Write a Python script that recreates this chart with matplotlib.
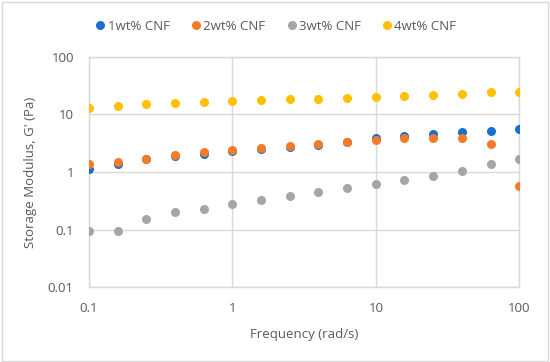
import numpy as np
import matplotlib
matplotlib.use("Agg")
import matplotlib.pyplot as plt
from matplotlib.ticker import FixedLocator, FixedFormatter, NullLocator
from matplotlib.patches import Rectangle

plt.rcParams['font.family'] = ['Open Sans', 'DejaVu Sans']

# frequency sweep, rad/s (5 points per decade)
freq = [0.1, 0.158, 0.251, 0.398, 0.631, 1.0, 1.58, 2.51, 3.98, 6.31,
        10.0, 15.8, 25.1, 39.8, 63.1, 100.0]

# storage modulus G', Pa
g_1wt = [1.14, 1.39, 1.66, 1.87, 2.08, 2.32, 2.51, 2.75, 2.95, 3.3,
         3.95, 4.28, 4.64, 4.96, 5.23, 5.52]
g_2wt = [1.36, 1.47, 1.70, 2.0, 2.23, 2.38, 2.61, 2.83, 3.03, 3.37,
         3.6, 3.86, 3.95, 3.86, 3.1, 0.58]
g_3wt = [0.094, 0.094, 0.154, 0.199, 0.23, 0.278, 0.33, 0.387, 0.455, 0.527,
         0.61, 0.726, 0.852, 1.04, 1.38, 1.71]
g_4wt = [13.1, 14.2, 15.0, 15.8, 16.5, 17.2, 17.9, 18.4, 18.8, 19.6,
         20.2, 20.7, 21.8, 23.0, 24.3, 24.9]

series = [("1wt% CNF", g_1wt, "#1a6ecc"),
          ("2wt% CNF", g_2wt, "#f47b2a"),
          ("3wt% CNF", g_3wt, "#a5a5a5"),
          ("4wt% CNF", g_4wt, "#ffc000")]

xticks = [0.1, 1, 10, 100]
xlabels = ["0.1", "1", "10", "100"]
yticks = [0.01, 0.1, 1, 10, 100]
ylabels = ["0.01", "0.1", "1", "10", "100"]

fig = plt.figure(figsize=(5.5, 3.62), dpi=100)
ax = fig.add_axes([0.162, 0.207, 0.782, 0.636])

grid_col = "#d9d9d9"
text_col = "#595959"

for label, vals, col in series:
    ax.plot(freq, vals, linestyle="none", marker="o", markersize=6.5,
            markeredgewidth=0, color=col, label=label, zorder=3)

ax.set_xscale("log")
ax.set_yscale("log")
ax.set_xlim(0.1, 100)
ax.set_ylim(0.01, 100)
ax.xaxis.set_major_locator(FixedLocator(xticks))
ax.xaxis.set_major_formatter(FixedFormatter(xlabels))
ax.yaxis.set_major_locator(FixedLocator(yticks))
ax.yaxis.set_major_formatter(FixedFormatter(ylabels))
ax.xaxis.set_minor_locator(NullLocator())
ax.yaxis.set_minor_locator(NullLocator())

ax.grid(True, color=grid_col, linewidth=1.0, zorder=0)
for sp in ax.spines.values():
    sp.set_color(grid_col)
    sp.set_linewidth(1.0)
ax.tick_params(length=0, labelsize=9.5, colors=text_col)
ax.tick_params(axis="y", pad=11)
ax.tick_params(axis="x", pad=11)

ax.set_xlabel("Frequency (rad/s)", fontsize=9.5, color=text_col, labelpad=9)
ax.set_ylabel("Storage Modulus, G' (Pa)", fontsize=9.5, color=text_col, labelpad=8)

fig.legend(loc="center", bbox_to_anchor=(0.5, 0.928), ncol=4, frameon=False,
           fontsize=9.5, handletextpad=0.05, columnspacing=1.5, markerscale=1.0,
           handlelength=1.0, labelcolor=text_col)

# chart border
fig.patches.append(Rectangle((0.003, 0.004), 0.994, 0.99, transform=fig.transFigure,
                             fill=False, edgecolor="#d9d9d9", linewidth=1.0))

fig.savefig("out.png", dpi=100)
